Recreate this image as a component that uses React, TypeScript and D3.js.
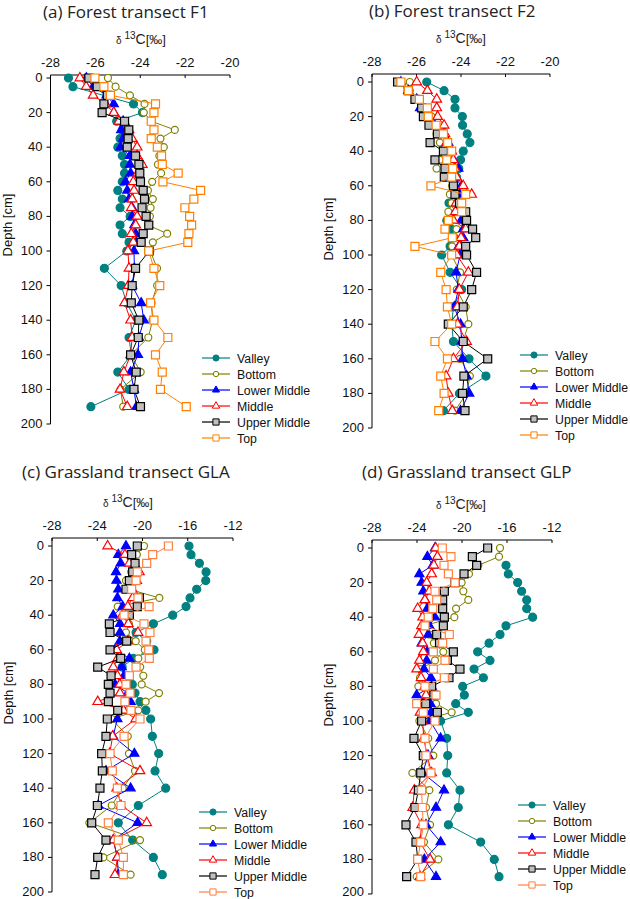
import { useEffect, useRef } from 'react'
import * as d3 from 'd3'

// depth of each sample [cm]
const depths = [0, 5, 10, 15, 20, 25, 30, 35, 40, 45, 50, 55, 60, 65, 70, 75, 80, 85, 90, 95,
  100, 110, 120, 130, 140, 150, 160, 170, 180, 190]
const seriesNames = ['Valley', 'Bottom', 'Lower Middle', 'Middle', 'Upper Middle', 'Top']
const depthTicks = [0, 20, 40, 60, 80, 100, 120, 140, 160, 180, 200]
const forestTicks = [-28, -26, -24, -22, -20]
const grassTicks = [-28, -24, -20, -16, -12]

// (a) forest F1, d13C per depth
const f1Valley = [-27.2, -27.0, null, -24.3, -23.9, -25.05, -24.8, -24.9, -25.0, -24.8, -24.7, -24.7, -24.8, -25.0, -24.8, -24.9, -24.45, -24.9, -24.8, -24.5, -24.6, -25.6, -24.85, -24.6, -24.2, -24.5, -24.4, -25.0, -24.5, -26.2]
const f1Bottom = [-25.44, -25.1, -24.46, -23.81, -23.84, -23.5, -22.46, -23.1, -22.95, -23.15, -23.21, -23.07, -23.47, -23.66, -23.44, -23.54, -23.57, -23.65, -22.8, -23.44, -23.55, -23.25, -23.25, -23.5, -23.45, -23.64, -24.43, -23.98, -24.88, -24.76]
const f1Lower = [-26.4, -26.1, -25.5, -25.18, -25.18, -24.76, -24.85, -24.76, -24.88, -24.46, -24.46, -24.43, -24.66, -24.58, -24.5, -24.36, -24.36, -24.26, -24.2, -24.17, -24.28, -24.26, -24.36, -23.96, -23.84, -24.06, -24.1, -24.43, -24.28, -24.17]
const f1Middle = [-26.69, -26.41, -26.1, -25.55, -25.18, -24.95, -24.5, -24.36, -24.14, -24.14, -23.91, -24.11, -24.31, -24.28, -24.36, -24.4, -24.14, -24.2, -24.4, -24.31, -24.55, -24.5, -24.53, -24.7, -24.43, -24.36, -24.43, -24.73, -24.9, -24.58]
const f1Upper = [-26.29, -25.92, -25.47, -25.62, -25.7, -24.7, -24.51, -24.54, -24.58, -24.21, -24.06, -24.02, -23.99, -23.87, -23.81, -23.92, -23.74, -23.62, -23.87, -23.96, -23.6, -24.21, -24.36, -24.4, -24.06, -24.09, -24.43, -24.18, -24.28, -23.99]
const f1Top = [-26.02, -25.62, -25.33, -23.32, -23.39, -23.51, -23.39, -23.51, -23.24, -23.05, -23.02, -22.31, -22.99, -21.31, -21.61, -22.01, -21.8, -21.71, -21.83, -21.88, -23.62, -23.39, -23.13, -23.54, -23.39, -22.77, -23.32, -23.02, -23.1, -21.95]

// (b) forest F2
const f2Valley = [-25.54, -24.76, -24.27, -24.27, -23.94, -23.93, -23.72, -23.6, -23.9, -24.02, -24.1, -24.2, -24.3, -24.4, -24.54, -24.2, -24.64, -24.45, -24.3, -24.49, -24.87, -24.49, -23.97, -24.34, -24.42, -24.34, -23.64, -22.88, -24.07, -24.79]
const f2Bottom = [-26.3, -26.3, -25.9, -25.8, -25.32, -25.2, -25.1, -24.95, -24.8, -24.95, -25.1, -24.75, -24.4, -24.5, -24.42, -24.57, -24.52, -24.2, -24.3, -24.4, -24.42, -24.04, -24.19, -23.79, -23.67, -23.9, -24.04, -23.6, -23.75, -24.27]
const f2Lower = [-26.7, -26.37, -25.99, -25.84, -25.54, -25.17, -24.79, -24.57, -24.42, -24.34, -24.12, -24.3, -23.97, -24.07, -24.12, -24.05, -24.0, -23.9, -23.9, -24.1, -24.04, -24.22, -24.12, -24.3, -24.02, -23.97, -23.93, -23.75, -23.63, -24.02]
const f2Middle = [-25.99, -25.51, -25.09, -25.09, -25.05, -24.76, -24.72, -24.65, -24.42, -24.35, -24.27, -24.2, -23.9, -23.52, -24.22, -24.25, -24.34, -23.79, -24.0, -24.07, -24.19, -23.67, -24.07, -24.16, -24.16, -23.75, -24.34, -24.67, -24.57, -24.39]
const f2Upper = [-26.85, -26.37, -26.07, -25.77, -25.69, -25.44, -25.06, -25.39, -24.79, -25.17, -24.72, -24.75, -24.34, -24.27, -24.07, -23.79, -23.75, -23.48, -23.34, -23.79, -23.75, -23.3, -23.52, -23.9, -24.57, -23.9, -22.8, -23.87, -23.93, -23.82]
const f2Top = [-26.7, -26.37, -25.87, -25.51, -25.47, -25.12, -24.79, -24.6, -24.42, -24.64, -24.37, -24.42, -25.35, -23.79, -23.97, -23.97, -24.57, -24.72, -24.39, -26.07, -24.42, -24.91, -24.67, -24.61, -24.42, -25.17, -24.61, -24.91, -24.76, -25.0]

// (c) grassland GLA
const glaValley = [-15.89, -15.71, -14.97, -14.38, -14.41, -15.21, -15.8, -16.15, -17.33, -19.04, -20.57, -19.63, -18.98, -20.81, -21.8, -21.3, -20.9, -20.66, -20.22, -19.7, -19.28, -19.13, -18.57, -18.89, -17.95, -20.37, -22.14, -20.87, -19.04, -18.25]
const glaBottom = [-19.87, -20.5, -20.9, -21.0, -21.46, -21.2, -18.51, -22.19, -21.5, -21.2, -21.46, -20.6, -19.8, -20.37, -20.2, -19.93, -20.07, -18.54, -19.72, -20.37, -22.72, -21.3, -21.2, -20.66, -21.75, -22.72, -24.7, -20.22, -23.46, -21.05]
const glaLower = [-21.46, -22.14, -21.93, -22.34, -22.3, -22.14, -22.22, -21.75, -22.58, -21.99, -21.99, -22.0, -22.43, -21.16, -21.84, -21.63, -22.43, -21.3, -21.05, -21.7, -22.22, -22.6, -20.72, -23.23, -21.05, -23.9, -20.43, -22.58, -22.22, -22.14]
const glaMiddle = [-23.08, -21.55, -21.16, -20.28, -20.51, -20.9, -20.87, -21.3, -21.8, -21.25, -20.4, -21.3, -22.28, -22.2, -22.58, -22.22, -22.0, -21.99, -23.96, -21.69, -20.6, -22.64, -22.9, -20.22, -22.28, -21.9, -19.63, -22.58, -22.22, -22.43]
const glaUpper = [-20.46, -20.96, -20.66, -20.87, -21.16, -21.46, -20.28, -20.46, -21.16, -22.93, -22.87, -21.4, -22.87, -21.93, -23.96, -22.78, -23.02, -22.87, -23.02, -22.19, -23.11, -23.23, -23.61, -23.55, -23.76, -23.99, -24.49, -23.23, -23.96, -24.2]
const glaTop = [-17.71, -19.1, -19.63, -20.46, -20.57, -20.96, -20.4, -19.42, -21.63, -19.87, -19.34, -19.69, -19.45, -19.4, -20.57, -21.16, -21.46, -21.1, -21.55, -21.02, -20.22, -21.63, -22.87, -22.67, -22.22, -21.9, -23.02, -22.14, -21.69, -21.69]

// (d) grassland GLP
const glpValley = [null, null, -16.09, -15.88, -15.05, -14.7, -14.25, -14.25, -13.72, -16.09, -16.62, -17.6, -18.61, -17.51, -18.93, -18.1, -19.94, -19.79, -20.56, -19.44, -21.9, -21.36, -21.27, -21.36, -20.18, -20.33, -21.21, -18.34, -17.13, -16.71]
const glpBottom = [-16.62, -16.71, -18.55, -19.38, -20.03, -19.88, -19.44, -20.53, -20.68, -23.4, -22.9, -22.5, -21.66, -22.4, -23.67, -23.73, -23.88, -22.8, -22.31, -20.92, -23.79, -23.0, -22.55, -24.41, -22.9, -23.2, -22.84, -23.38, -22.1, -24.03]
const glpLower = [-22.4, -23.08, -22.6, -23.79, -23.59, -23.44, -23.3, -23.08, -22.4, -22.9, -23.0, -23.59, -23.1, -23.14, -23.38, -22.76, -22.7, -24.03, -22.8, -22.76, -22.84, -21.9, -23.0, -23.5, -21.6, -22.31, -23.2, -21.9, -23.35, -22.31]
const glpMiddle = [-22.34, -22.19, -22.5, -22.7, -23.14, -22.9, -23.3, -23.94, -23.5, -23.6, -23.82, -23.5, -23.44, -23.79, -24.03, -23.64, -23.3, -23.2, -23.4, -23.73, -23.5, -23.4, -23.1, -22.7, -24.24, -24.38, -23.59, -23.73, -22.84, -23.73]
const glpUpper = [-17.72, -19.08, -18.7, -19.82, -20.62, -21.57, -21.72, -21.72, -21.57, -21.66, -22.25, -22.0, -20.77, -21.3, -20.18, -21.16, -22.7, -22.5, -23.23, -22.19, -23.59, -24.27, -23.44, -23.67, -23.88, -24.18, -24.98, -24.09, -23.94, -24.92]
const glpTop = [-21.75, -20.98, -21.6, -21.21, -20.62, -22.4, -22.25, -22.6, -23.0, -23.29, -21.13, -21.72, -22.55, -21.51, -22.55, -21.57, -23.29, -22.31, -24.03, -23.44, -22.4, -23.29, -23.2, -22.76, -23.59, -23.53, -23.44, -23.67, -23.94, -23.67]

type Panel = {
  title: string
  series: (number | null)[][]
  domain: [number, number]
  ticks: number[]
  titleX: number; titleY: number
  x0: number; x1: number; y0: number; y1: number; axisY: number
  labelX: number
  legendX: number; legendY: number
  topColor: string
}

const panels: Panel[] = [
  { title: '(a) Forest transect F1', series: [f1Valley, f1Bottom, f1Lower, f1Middle, f1Upper, f1Top],
    domain: [-28, -20], ticks: forestTicks, titleX: 43, titleY: 18,
    x0: 50.5, x1: 230, y0: 78, y1: 424, axisY: 75, labelX: 141, legendX: 202, legendY: 358, topColor: '#ff8000' },
  { title: '(b) Forest transect F2', series: [f2Valley, f2Bottom, f2Lower, f2Middle, f2Upper, f2Top],
    domain: [-28, -20], ticks: forestTicks, titleX: 369, titleY: 17,
    x0: 372, x1: 550, y0: 82, y1: 428, axisY: 74, labelX: 461, legendX: 520, legendY: 355, topColor: '#ff8000' },
  { title: '(c) Grassland transect GLA', series: [glaValley, glaBottom, glaLower, glaMiddle, glaUpper, glaTop],
    domain: [-28, -12], ticks: grassTicks, titleX: 22, titleY: 478,
    x0: 52, x1: 233, y0: 546, y1: 892, axisY: 538, labelX: 128, legendX: 199, legendY: 812, topColor: '#ff7f3f' },
  { title: '(d) Grassland transect GLP', series: [glpValley, glpBottom, glpLower, glpMiddle, glpUpper, glpTop],
    domain: [-28, -12], ticks: grassTicks, titleX: 362, titleY: 478,
    x0: 372, x1: 552, y0: 548, y1: 894, axisY: 540, labelX: 461, legendX: 518, legendY: 805, topColor: '#ff7f3f' },
]

const axisFont = '"Liberation Sans", Arial, sans-serif'

function styleFor(i: number, topColor: string) {
  const styles = [
    { stroke: '#008080', fill: '#008080', shape: d3.symbolCircle, size: 50 },
    { stroke: '#808000', fill: '#ffffff', shape: d3.symbolCircle, size: 38 },
    { stroke: '#0000ff', fill: '#0000ff', shape: d3.symbolTriangle, size: 36 },
    { stroke: '#ff0000', fill: '#ffffff', shape: d3.symbolTriangle, size: 40 },
    { stroke: '#000000', fill: '#c0c0c0', shape: d3.symbolSquare, size: 64 },
    { stroke: topColor, fill: '#ffffff', shape: d3.symbolSquare, size: 64 },
  ]
  return styles[i]
}

export default function App() {
  const ref = useRef<SVGSVGElement>(null)

  useEffect(() => {
    if (!ref.current) return
    const svg = d3.select(ref.current)
    svg.selectAll('*').remove()

    panels.forEach(p => {
      const g = svg.append('g')
      const x = d3.scaleLinear().domain(p.domain).range([p.x0, p.x1])
      const y = d3.scaleLinear().domain([0, 200]).range([p.y0, p.y1])

      // title
      g.append('text')
        .attr('x', p.titleX).attr('y', p.titleY)
        .attr('font-family', '"Open Sans", "Noto Sans", sans-serif').attr('font-size', 17)
        .attr('fill', '#222')
        .text(p.title)

      // x label: δ 13C [‰]
      const lab = g.append('text')
        .attr('x', p.labelX).attr('y', p.axisY - 31)
        .attr('text-anchor', 'middle')
        .attr('font-family', axisFont).attr('fill', '#222')
      lab.append('tspan').attr('font-size', 10).text('δ ')
      lab.append('tspan').attr('font-size', 10).attr('dy', -5).text('13')
      lab.append('tspan').attr('font-size', 14).attr('dy', 5).text('C')
      lab.append('tspan').attr('font-size', 13).text('[‰]')

      // top axis
      g.append('line')
        .attr('x1', p.x0).attr('x2', p.x1).attr('y1', p.axisY).attr('y2', p.axisY)
        .attr('stroke', '#000').attr('stroke-width', 1)
      p.ticks.forEach(t => {
        g.append('line')
          .attr('x1', x(t)).attr('x2', x(t)).attr('y1', p.axisY).attr('y2', p.axisY + 3)
          .attr('stroke', '#000')
        g.append('text')
          .attr('x', x(t)).attr('y', p.axisY - 8)
          .attr('text-anchor', 'middle')
          .attr('font-family', axisFont).attr('font-size', 13).attr('fill', '#111')
          .text(t)
      })

      // left axis
      g.append('line')
        .attr('x1', p.x0).attr('x2', p.x0).attr('y1', p.axisY).attr('y2', y(200))
        .attr('stroke', '#000')
      depthTicks.forEach(t => {
        g.append('line')
          .attr('x1', p.x0 - 4).attr('x2', p.x0).attr('y1', y(t)).attr('y2', y(t))
          .attr('stroke', '#000')
        g.append('text')
          .attr('x', p.x0 - 8).attr('y', Math.min(y(t) + 4, 896))
          .attr('text-anchor', 'end')
          .attr('font-family', axisFont).attr('font-size', 13).attr('fill', '#111')
          .text(t)
      })
      g.append('text')
        .attr('transform', `translate(${p.x0 - 39},${y(85)}) rotate(-90)`)
        .attr('text-anchor', 'middle')
        .attr('font-family', axisFont).attr('font-size', 13).attr('fill', '#111')
        .text('Depth [cm]')

      // series
      const line = d3.line<[number, number]>().x(d => x(d[0])).y(d => y(d[1]))
      p.series.forEach((vals, i) => {
        const s = styleFor(i, p.topColor)
        const pts: [number, number][] = []
        vals.forEach((v, j) => { if (v !== null) pts.push([v, depths[j]]) })
        g.append('path')
          .attr('d', line(pts) as string)
          .attr('fill', 'none').attr('stroke', s.stroke).attr('stroke-width', 1)
        const sym = d3.symbol().type(s.shape).size(s.size)
        g.selectAll(null).data(pts).enter().append('path')
          .attr('transform', d => `translate(${x(d[0])},${y(d[1])})`)
          .attr('d', sym() as string)
          .attr('fill', s.fill).attr('stroke', s.stroke).attr('stroke-width', 1.2)
      })

      // legend
      seriesNames.forEach((name, i) => {
        const s = styleFor(i, p.topColor)
        const ly = p.legendY + i * 16
        g.append('line')
          .attr('x1', p.legendX).attr('x2', p.legendX + 28).attr('y1', ly).attr('y2', ly)
          .attr('stroke', s.stroke).attr('stroke-width', 1.2)
        g.append('path')
          .attr('transform', `translate(${p.legendX + 14},${ly})`)
          .attr('d', d3.symbol().type(s.shape).size(s.size * 0.6)() as string)
          .attr('fill', s.fill).attr('stroke', s.stroke).attr('stroke-width', 1)
        g.append('text')
          .attr('x', p.legendX + 35).attr('y', ly + 4.5)
          .attr('font-family', axisFont).attr('font-size', 12.3).attr('fill', '#111')
          .text(name)
      })
    })
  }, [])

  return (
    <svg ref={ref} width={630} height={899}
      style={{ position: 'absolute', left: 0, top: 0, background: '#fff' }} />
  )
}
